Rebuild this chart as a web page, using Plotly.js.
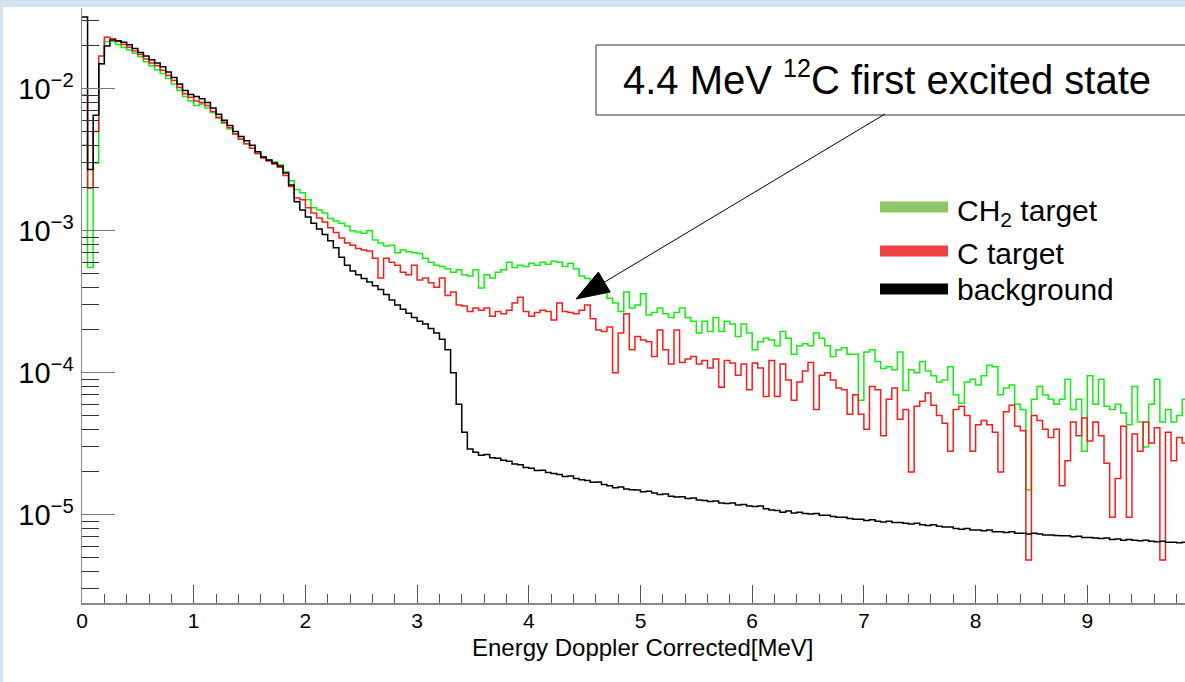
<!DOCTYPE html>
<html>
<head>
<meta charset="utf-8">
<script src="https://cdn.plot.ly/plotly-3.0.1.min.js"></script>
<style>
html,body{margin:0;padding:0;background:#d3e2f1;width:1185px;height:682px;overflow:hidden;}
#plot{position:absolute;left:3px;top:7px;width:1182px;height:675px;background:#fff;}
</style>
</head>
<body>
<div id="plot"></div>
<script>
// Histogram binning (MeV)
const binStart = 0;
const binWidth = 0.05;

// CH2 target (green), one value per bin from 0.00 MeV
const ch2Target = [
  4.0e-3, 5.5e-4, 3.0e-3, 1.5e-2, 2.15e-2, 2.15e-2, 2.05e-2, 1.95e-2, 1.87e-2, 1.78e-2,
  1.68e-2, 1.55e-2, 1.45e-2, 1.36e-2, 1.28e-2, 1.18e-2, 1.08e-2, 9.7e-3, 8.8e-3, 8.2e-3,
  7.6e-3, 7.8e-3, 7.3e-3, 6.8e-3, 6.2e-3, 5.7e-3, 5.2e-3, 4.8e-3, 4.4e-3, 4.1e-3,
  3.8e-3, 3.5e-3, 3.3e-3, 3.15e-3, 3.05e-3, 2.9e-3, 2.6e-3, 2.25e-3, 1.95e-3, 1.85e-3,
  1.65e-3, 1.45e-3, 1.4e-3, 1.33e-3, 1.22e-3, 1.17e-3, 1.13e-3, 1.08e-3, 1.0e-3, 9.8e-4,
  9.6e-4, 1.0e-3, 8.6e-4, 8.2e-4, 7.8e-4, 7.9e-4, 7.0e-4, 7.3e-4, 7.1e-4, 7.0e-4,
  6.9e-4, 6.4e-4, 6.0e-4, 5.7e-4, 5.6e-4, 5.4e-4, 5.1e-4, 5.3e-4, 4.9e-4, 4.8e-4,
  5.3e-4, 3.95e-4, 4.9e-4, 4.65e-4, 5.1e-4, 5.3e-4, 6.0e-4, 5.5e-4, 5.7e-4, 5.6e-4,
  5.9e-4, 5.7e-4, 6.0e-4, 5.8e-4, 6.1e-4, 6.0e-4, 5.6e-4, 5.9e-4, 5.4e-4, 4.8e-4,
  4.6e-4, 3.9e-4, 3.8e-4, 3.7e-4, 3.35e-4, 3.1e-4, 2.7e-4, 3.7e-4, 2.85e-4, 3.0e-4,
  3.6e-4, 2.55e-4, 2.65e-4, 2.85e-4, 2.6e-4, 2.45e-4, 2.65e-4, 2.85e-4, 2.45e-4, 2.3e-4,
  1.9e-4, 2.3e-4, 1.95e-4, 2.45e-4, 1.95e-4, 2.3e-4, 2.2e-4, 1.8e-4, 2.2e-4, 1.9e-4,
  1.45e-4, 1.65e-4, 1.75e-4, 1.7e-4, 1.55e-4, 1.95e-4, 1.75e-4, 1.35e-4, 1.55e-4, 1.6e-4,
  1.55e-4, 1.9e-4, 1.75e-4, 1.55e-4, 1.3e-4, 1.45e-4, 1.5e-4, 1.35e-4, 1.35e-4, 6.4e-5,
  1.4e-4, 1.45e-4, 1.2e-4, 1.07e-4, 1.1e-4, 1.05e-4, 1.4e-4, 7.5e-5, 1.05e-4, 1.0e-4,
  1.2e-4, 1.03e-4, 9.5e-5, 8.6e-5, 8.9e-5, 1.1e-4, 7.0e-5, 6.1e-5, 8.6e-5, 9.0e-5,
  8.2e-5, 9.5e-5, 1.13e-4, 1.1e-4, 7.0e-5, 7.8e-5, 8.2e-5, 6.0e-5, 5.5e-5, 1.5e-5,
  6.5e-5, 8.0e-5, 7.0e-5, 6.5e-5, 6.0e-5, 6.5e-5, 9.0e-5, 5.5e-5, 6.5e-5, 2.8e-5,
  9.5e-5, 6.0e-5, 9.0e-5, 5.8e-5, 5.5e-5, 6.0e-5, 5.2e-5, 4.3e-5, 8.0e-5, 4.5e-5,
  3.0e-5, 6.0e-5, 9.0e-5, 4.5e-5, 5.5e-5, 4.5e-5, 5.0e-5, 6.5e-5
];

// C target (red)
const cTarget = [
  9.0e-3, 2.0e-3, 5.0e-3, 1.7e-2, 2.3e-2, 2.25e-2, 2.15e-2, 2.05e-2, 1.96e-2, 1.84e-2,
  1.74e-2, 1.62e-2, 1.52e-2, 1.45e-2, 1.35e-2, 1.24e-2, 1.14e-2, 1.02e-2, 9.2e-3, 8.7e-3,
  8.2e-3, 8.0e-3, 7.6e-3, 6.9e-3, 6.3e-3, 5.8e-3, 5.3e-3, 4.8e-3, 4.4e-3, 4.1e-3,
  3.8e-3, 3.5e-3, 3.25e-3, 3.1e-3, 2.95e-3, 2.8e-3, 2.45e-3, 2.05e-3, 1.7e-3, 1.65e-3,
  1.45e-3, 1.33e-3, 1.23e-3, 1.15e-3, 1.05e-3, 9.7e-4, 8.9e-4, 8.2e-4, 7.9e-4, 7.5e-4,
  7.3e-4, 7.2e-4, 6.4e-4, 4.65e-4, 6.4e-4, 6.0e-4, 5.7e-4, 5.1e-4, 4.9e-4, 5.7e-4,
  4.5e-4, 4.65e-4, 4.3e-4, 4.0e-4, 4.65e-4, 3.5e-4, 3.7e-4, 3.0e-4, 2.95e-4, 2.7e-4,
  2.85e-4, 2.75e-4, 2.85e-4, 2.5e-4, 2.7e-4, 2.6e-4, 2.75e-4, 3.1e-4, 3.4e-4, 2.7e-4,
  2.5e-4, 2.65e-4, 2.75e-4, 2.7e-4, 2.35e-4, 3.1e-4, 2.7e-4, 2.65e-4, 2.6e-4, 2.75e-4,
  3.0e-4, 2.4e-4, 2.0e-4, 1.95e-4, 2.1e-4, 1.0e-4, 1.9e-4, 2.6e-4, 1.45e-4, 1.8e-4,
  1.7e-4, 1.65e-4, 1.3e-4, 2.0e-4, 1.45e-4, 1.15e-4, 2.0e-4, 1.18e-4, 1.25e-4, 1.3e-4,
  1.15e-4, 1.22e-4, 1.08e-4, 1.25e-4, 7.9e-5, 1.22e-4, 1.17e-4, 9.6e-5, 1.15e-4, 7.6e-5,
  1.17e-4, 1.08e-4, 6.8e-5, 1.22e-4, 6.8e-5, 1.15e-4, 8.9e-5, 6.4e-5, 8.6e-5, 1.03e-4,
  1.18e-4, 5.5e-5, 9.6e-5, 1.0e-4, 8.9e-5, 7.8e-5, 7.6e-5, 5.1e-5, 7.0e-5, 5.1e-5,
  4.0e-5, 8.0e-5, 7.6e-5, 3.6e-5, 6.5e-5, 7.8e-5, 4.7e-5, 5.5e-5, 2.0e-5, 5.8e-5,
  6.3e-5, 7.2e-5, 5.9e-5, 5.0e-5, 4.4e-5, 2.8e-5, 5.5e-5, 5.8e-5, 5.0e-5, 2.8e-5,
  4.3e-5, 4.6e-5, 4.3e-5, 3.8e-5, 2.0e-5, 5.3e-5, 5.9e-5, 4.2e-5, 3.9e-5, 4.8e-6,
  5.0e-5, 4.6e-5, 4.0e-5, 3.5e-5, 4.0e-5, 1.6e-5, 2.4e-5, 4.5e-5, 3.6e-5, 4.8e-5,
  3.3e-5, 4.5e-5, 3.6e-5, 2.3e-5, 9.6e-6, 1.8e-5, 4.2e-5, 9.6e-6, 3.7e-5, 2.8e-5,
  4.5e-5, 3.2e-5, 4.1e-5, 4.8e-6, 3.8e-5, 2.4e-5, 3.5e-5, 3.2e-5
];

// background (black)
const backgroundRun = [
  3.2e-2, 2.7e-3, 6.5e-3, 1.5e-2, 2.0e-2, 2.2e-2, 2.18e-2, 2.12e-2, 2.04e-2, 1.92e-2,
  1.8e-2, 1.7e-2, 1.6e-2, 1.52e-2, 1.43e-2, 1.31e-2, 1.2e-2, 1.08e-2, 9.7e-3, 9.1e-3,
  8.8e-3, 8.5e-3, 8.0e-3, 7.3e-3, 6.6e-3, 6.0e-3, 5.5e-3, 5.0e-3, 4.6e-3, 4.3e-3,
  4.0e-3, 3.6e-3, 3.3e-3, 3.15e-3, 3.0e-3, 2.85e-3, 2.55e-3, 2.1e-3, 1.6e-3, 1.4e-3,
  1.25e-3, 1.13e-3, 1.03e-3, 9.4e-4, 8.5e-4, 7.6e-4, 6.5e-4, 5.7e-4, 5.2e-4, 4.9e-4,
  4.6e-4, 4.35e-4, 4.1e-4, 3.85e-4, 3.55e-4, 3.25e-4, 3.0e-4, 2.8e-4, 2.62e-4, 2.45e-4,
  2.3e-4, 2.2e-4, 2.05e-4, 1.9e-4, 1.72e-4, 1.45e-4, 1.0e-4, 6.0e-5, 3.8e-5, 2.9e-5,
  2.75e-5, 2.62e-5, 2.65e-5, 2.52e-5, 2.5e-5, 2.42e-5, 2.38e-5, 2.28e-5, 2.25e-5, 2.15e-5,
  2.12e-5, 2.05e-5, 2.06e-5, 1.98e-5, 1.95e-5, 1.92e-5, 1.86e-5, 1.87e-5, 1.8e-5, 1.76e-5,
  1.74e-5, 1.69e-5, 1.7e-5, 1.63e-5, 1.6e-5, 1.55e-5, 1.57e-5, 1.52e-5, 1.5e-5, 1.49e-5,
  1.45e-5, 1.46e-5, 1.42e-5, 1.39e-5, 1.4e-5, 1.35e-5, 1.33e-5, 1.34e-5, 1.3e-5, 1.31e-5,
  1.27e-5, 1.26e-5, 1.24e-5, 1.25e-5, 1.21e-5, 1.2e-5, 1.21e-5, 1.17e-5, 1.18e-5, 1.15e-5,
  1.14e-5, 1.15e-5, 1.1e-5, 1.08e-5, 1.07e-5, 1.04e-5, 1.06e-5, 1.03e-5, 1.04e-5, 1.02e-5,
  1.01e-5, 1.02e-5, 9.9e-6, 9.9e-6, 9.7e-6, 9.6e-6, 9.6e-6, 9.4e-6, 9.3e-6, 9.3e-6,
  9.1e-6, 9.2e-6, 9.0e-6, 8.9e-6, 9.0e-6, 8.8e-6, 8.8e-6, 8.7e-6, 8.6e-6, 8.7e-6,
  8.5e-6, 8.4e-6, 8.5e-6, 8.3e-6, 8.2e-6, 8.2e-6, 8.0e-6, 7.9e-6, 8.0e-6, 7.8e-6,
  7.8e-6, 7.7e-6, 7.8e-6, 7.6e-6, 7.6e-6, 7.5e-6, 7.6e-6, 7.4e-6, 7.4e-6, 7.3e-6,
  7.4e-6, 7.3e-6, 7.2e-6, 7.2e-6, 7.15e-6, 7.1e-6, 7.1e-6, 7.0e-6, 7.05e-6, 6.9e-6,
  6.9e-6, 6.85e-6, 6.8e-6, 6.85e-6, 6.7e-6, 6.75e-6, 6.6e-6, 6.7e-6, 6.6e-6, 6.55e-6,
  6.6e-6, 6.5e-6, 6.45e-6, 6.5e-6, 6.4e-6, 6.4e-6, 6.35e-6, 6.4e-6
];

const seriesNames = ["CH<sub>2</sub> target", "C target", "background"];
const lineColors = ["#10ee10", "#ff1a1a", "#000000"];
const legendColors = ["#8cc864", "#f04444", "#000000"];
const xTickVals = [0, 1, 2, 3, 4, 5, 6, 7, 8, 9];
const yTickVals = [1e-5, 1e-4, 1e-3, 1e-2];
const yTickText = ["10<sup>\u22125</sup>", "10<sup>\u22124</sup>", "10<sup>\u22123</sup>", "10<sup>\u22122</sup>"];
const xTitle = "Energy Doppler Corrected[MeV]";
const noteText = "4.4 MeV <sup><span style=\"font-size:25px\">12</span></sup>C first excited state";

// step-histogram helper: left edges + closing edge
function histTrace(vals, color, name) {
  const x = vals.map((_, i) => binStart + i * binWidth);
  x.push(binStart + vals.length * binWidth);
  const y = vals.slice();
  y.push(vals[vals.length - 1]);
  return {x: x, y: y, type: 'scatter', mode: 'lines', name: name,
          line: {shape: 'hv', color: color, width: 1.5}, showlegend: false,
          hoverinfo: 'skip'};
}

const traces = [
  histTrace(ch2Target, lineColors[0], seriesNames[0]),
  histTrace(cTarget, lineColors[1], seriesNames[1]),
  histTrace(backgroundRun, lineColors[2], seriesNames[2])
];

// page-pixel -> paper helpers (plot area: left 82, top 8, 1103 x 595)
const PL = 82, PT = 8, PW = 1103, PH = 595;
const fx = p => (p - PL) / PW;
const fy = p => (PT + PH - p) / PH;

const FONT = "Liberation Sans, Arial, Helvetica, sans-serif";

const shapes = [
  {type: 'rect', xref: 'paper', yref: 'paper', x0: fx(596), x1: fx(1195), y0: fy(115), y1: fy(45),
   line: {color: '#333', width: 1}, fillcolor: '#ffffff', layer: 'above'},
  {type: 'line', xref: 'paper', yref: 'paper', x0: fx(885), y0: fy(114), x1: fx(603), y1: fy(283),
   line: {color: '#000', width: 1}},
  {type: 'path', xref: 'paper', yref: 'paper',
   path: `M${fx(576)},${fy(299)} L${fx(598.4)},${fy(272)} L${fx(610.2)},${fy(292)} Z`,
   fillcolor: '#000', line: {color: '#000', width: 1}},
];
const legendY = [207, 251, 289];
legendY.forEach((yy, i) => {
  shapes.push({type: 'rect', xref: 'paper', yref: 'paper', x0: fx(880), x1: fx(948),
               y0: fy(yy + 5.5), y1: fy(yy - 5.5), line: {width: 0}, fillcolor: legendColors[i]});
});

const annotations = [
  {xref: 'paper', yref: 'paper', x: fx(621), y: fy(78), xanchor: 'left', yanchor: 'middle',
   text: noteText, showarrow: false, font: {family: FONT, size: 40, color: '#000'}},
  {xref: 'paper', yref: 'paper', x: fx(642), y: fy(647), xanchor: 'center', yanchor: 'middle',
   text: xTitle, showarrow: false, font: {family: FONT, size: 24, color: '#000'}}
];
const legendTextY = [212, 253, 289];
seriesNames.forEach((nm, i) => {
  annotations.push({xref: 'paper', yref: 'paper', x: fx(955), y: fy(legendTextY[i]),
    xanchor: 'left', yanchor: 'middle', text: nm, showarrow: false,
    font: {family: FONT, size: 30, color: '#000'}});
});

const layout = {
  width: 1182, height: 675,
  margin: {l: 79, r: 0, t: 1, b: 79, pad: 0},
  paper_bgcolor: '#ffffff', plot_bgcolor: '#ffffff',
  showlegend: false,
  font: {family: FONT, color: '#000'},
  xaxis: {
    range: [0, 9.875], showgrid: false, zeroline: false,
    showline: true, linecolor: '#888', linewidth: 1.5, mirror: false,
    tickmode: 'array', tickvals: xTickVals, ticktext: xTickVals.map(String),
    ticks: 'inside', ticklen: 18, tickwidth: 1, tickcolor: '#555',
    ticklabelstandoff: -2,
    tickfont: {family: FONT, size: 21, color: '#000'},
    minor: {ticks: 'inside', ticklen: 9, dtick: 0.2, tick0: 0, tickcolor: '#555', tickwidth: 1, showgrid: false}
  },
  yaxis: {
    type: 'log', range: [-5.6218, -1.4317], showgrid: false, zeroline: false,
    showline: true, linecolor: '#888', linewidth: 1.5,
    tickmode: 'array', tickvals: yTickVals, ticktext: yTickText,
    ticks: 'inside', ticklen: 33, tickwidth: 1, tickcolor: '#777',
    ticklabelstandoff: 1,
    tickfont: {family: FONT, size: 29, color: '#000'},
    minor: {ticks: 'inside', ticklen: 17, dtick: 'D1', tickcolor: '#333', tickwidth: 1, showgrid: false}
  },
  shapes: shapes,
  annotations: annotations
};

Plotly.newPlot('plot', traces, layout, {staticPlot: true, displayModeBar: false});
</script>
</body>
</html>
